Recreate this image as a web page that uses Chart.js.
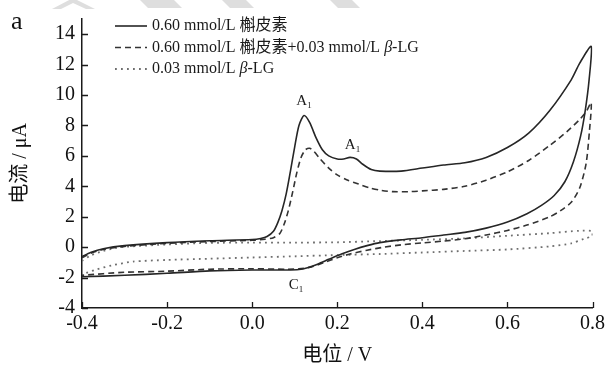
<!DOCTYPE html>
<html>
<head>
<meta charset="utf-8">
<script src="https://cdn.jsdelivr.net/npm/chart.js@4.4.1/dist/chart.umd.min.js"></script>
<style>
html, body { margin: 0; padding: 0; background: #fff; }
#wrap { width: 609px; height: 374px; }
</style>
</head>
<body>
<div id="wrap"><canvas id="cv"></canvas></div>
<script>
// series names as in the legend
var seriesNames = [
    "0.60 mmol/L 槲皮素",
    "0.60 mmol/L 槲皮素+0.03 mmol/L β-LG",
    "0.03 mmol/L β-LG"
];

// quercetin alone: forward scan then reverse scan (V, µA)
var quercetinV = [-0.4, -0.38, -0.35, -0.3, -0.2, -0.1, 0.0, 0.02, 0.035, 0.05, 0.06, 0.07, 0.08, 0.09, 0.1, 0.11, 0.122, 0.135, 0.15, 0.165, 0.18, 0.2, 0.215, 0.23, 0.245, 0.26, 0.28, 0.3, 0.35, 0.4, 0.45, 0.5, 0.55, 0.6, 0.65, 0.7, 0.75, 0.77, 0.797,
    0.792, 0.783, 0.772, 0.755, 0.735, 0.71, 0.68, 0.646, 0.6, 0.55, 0.5, 0.45, 0.4, 0.35, 0.3, 0.27, 0.24, 0.21, 0.18, 0.155, 0.13, 0.11, 0.08, 0.0, -0.1, -0.2, -0.3, -0.4];
var quercetinI = [-0.62, -0.35, -0.1, 0.1, 0.3, 0.42, 0.5, 0.57, 0.7, 1.05, 1.6, 2.4, 3.5, 5.0, 6.6, 8.0, 8.65, 8.2, 7.2, 6.4, 6.0, 5.8, 5.8, 5.9, 5.8, 5.45, 5.1, 5.0, 5.0, 5.2, 5.4, 5.55, 5.9, 6.55, 7.5, 9.0, 11.0, 12.1, 13.2,
    11.0, 9.0, 7.3, 5.6, 4.3, 3.4, 2.75, 2.2, 1.65, 1.25, 0.97, 0.8, 0.62, 0.48, 0.3, 0.1, -0.15, -0.45, -0.8, -1.1, -1.35, -1.47, -1.5, -1.5, -1.56, -1.72, -1.85, -1.95];

// quercetin + beta-LG
var mixV = [-0.4, -0.38, -0.35, -0.3, -0.2, -0.1, 0.0, 0.03, 0.05, 0.065, 0.075, 0.085, 0.095, 0.105, 0.115, 0.125, 0.135, 0.145, 0.16, 0.18, 0.2, 0.225, 0.25, 0.275, 0.3, 0.33, 0.37, 0.4, 0.45, 0.5, 0.55, 0.6, 0.65, 0.7, 0.74, 0.77, 0.785, 0.797,
    0.793, 0.785, 0.77, 0.75, 0.725, 0.7, 0.646, 0.6, 0.55, 0.5, 0.45, 0.4, 0.35, 0.31, 0.27, 0.23, 0.2, 0.17, 0.14, 0.11, 0.08, 0.0, -0.1, -0.2, -0.3, -0.4];
var mixI = [-0.7, -0.4, -0.15, 0.05, 0.25, 0.37, 0.45, 0.52, 0.62, 0.9, 1.5, 2.4, 3.6, 4.9, 5.9, 6.4, 6.5, 6.3, 5.8, 5.2, 4.75, 4.4, 4.15, 3.9, 3.75, 3.65, 3.65, 3.7, 3.8, 4.0, 4.4, 4.95, 5.7, 6.7, 7.6, 8.4, 8.9, 9.5,
    7.7, 5.5, 3.9, 2.95, 2.4, 2.0, 1.45, 1.1, 0.8, 0.55, 0.4, 0.28, 0.15, 0.0, -0.2, -0.45, -0.7, -1.0, -1.3, -1.42, -1.45, -1.42, -1.45, -1.58, -1.65, -1.85];

// beta-LG alone
var lgV = [-0.4, -0.38, -0.35, -0.32, -0.3, -0.2, -0.1, 0.0, 0.1, 0.2, 0.3, 0.4, 0.5, 0.6, 0.7, 0.77, 0.8,
    0.8, 0.78, 0.75, 0.7, 0.6, 0.5, 0.4, 0.3, 0.2, 0.1, 0.0, -0.1, -0.2, -0.28, -0.33, -0.37, -0.4];
var lgI = [-0.9, -0.55, -0.25, -0.05, 0.02, 0.18, 0.28, 0.3, 0.3, 0.32, 0.4, 0.48, 0.58, 0.75, 0.92, 1.08, 1.05,
    0.75, 0.55, 0.25, 0.05, -0.15, -0.25, -0.35, -0.45, -0.52, -0.6, -0.68, -0.76, -0.84, -0.95, -1.2, -1.5, -1.8];

var xTicks = [-0.4, -0.2, 0.0, 0.2, 0.4, 0.6, 0.8];
var yTicks = [-4, -2, 0, 2, 4, 6, 8, 10, 12, 14];

// peak labels (name, subscript, potential, current)
var peakNames = ["A", "A", "C"];
var peakSubs = ["1", "1", "1"];
var peakV = [0.118, 0.232, 0.1];
var peakI = [9.7, 6.75, -2.4];

function toPoints(xs, ys) {
    return xs.map(function (v, i) { return { x: v, y: ys[i] }; });
}

var serif = '"Liberation Serif", "Noto Sans CJK SC", serif';

var extras = {
    id: 'extras',
    beforeDraw: function (chart) {
        // faint watermark stripes along the top edge
        var ctx = chart.ctx;
        ctx.save();
        ctx.fillStyle = '#dedede';
        ctx.beginPath();
        ctx.moveTo(52, 9); ctx.lineTo(73, -2); ctx.lineTo(95, 9); ctx.lineTo(86, 9); ctx.lineTo(73, 3); ctx.lineTo(61, 9);
        ctx.closePath(); ctx.fill();
        [[140, 34], [222, 24], [330, 22]].forEach(function (s) {
            ctx.beginPath();
            ctx.moveTo(s[0], 0); ctx.lineTo(s[0] + s[1], 0); ctx.lineTo(s[0] + s[1] + 8, 8); ctx.lineTo(s[0] + 8, 8);
            ctx.closePath(); ctx.fill();
        });
        ctx.restore();
    },
    afterDraw: function (chart) {
        var ctx = chart.ctx;
        var xs = chart.scales.x, ys = chart.scales.y;
        var area = chart.chartArea;
        ctx.save();
        // inward ticks
        ctx.strokeStyle = '#1a1a1a';
        ctx.lineWidth = 1.3;
        ctx.beginPath();
        xTicks.forEach(function (v) {
            var px = Math.round(xs.getPixelForValue(v)) + 0.5;
            ctx.moveTo(px, area.bottom); ctx.lineTo(px, area.bottom - 6);
        });
        yTicks.forEach(function (v) {
            var py = Math.round(ys.getPixelForValue(v)) + 0.5;
            ctx.moveTo(area.left, py); ctx.lineTo(area.left + 6, py);
        });
        ctx.stroke();

        // legend
        chart.data.datasets.forEach(function (ds, i) {
            var y = area.top + 7 + i * 21.5;
            ctx.strokeStyle = ds.borderColor;
            ctx.lineWidth = ds.borderWidth;
            ctx.setLineDash(ds.borderDash || []);
            ctx.beginPath();
            ctx.moveTo(area.left + 33, y); ctx.lineTo(area.left + 65, y);
            ctx.stroke();
            ctx.setLineDash([]);
            ctx.fillStyle = '#1a1a1a';
            ctx.textBaseline = 'middle';
            ctx.textAlign = 'left';
            var parts = ds.label.split('β');
            var tx = area.left + 70;
            parts.forEach(function (p, k) {
                if (k > 0) {
                    ctx.font = 'italic 16px ' + serif;
                    ctx.fillText('β', tx, y);
                    tx += ctx.measureText('β').width;
                }
                ctx.font = '16px ' + serif;
                ctx.fillText(p, tx, y);
                tx += ctx.measureText(p).width;
            });
        });

        // peak labels
        peakNames.forEach(function (n, i) {
            var px = xs.getPixelForValue(peakV[i]);
            var py = ys.getPixelForValue(peakI[i]);
            ctx.fillStyle = '#1a1a1a';
            ctx.textBaseline = 'alphabetic';
            ctx.font = '15px ' + serif;
            ctx.fillText(n, px - 6, py + 5);
            var w = ctx.measureText(n).width;
            ctx.font = '9px ' + serif;
            ctx.fillText(peakSubs[i], px - 6 + w, py + 8);
        });

        // panel letter
        ctx.font = '26px ' + serif;
        ctx.fillStyle = '#111';
        ctx.textBaseline = 'alphabetic';
        ctx.fillText('a', 11, 29);
        ctx.restore();
    }
};

var ct = document.getElementById('cv');

var grafico = new Chart(ct, {
    type: 'scatter',
    data: {
        datasets: [{
            label: seriesNames[0],
            data: toPoints(quercetinV, quercetinI),
            showLine: true,
            borderWidth: 1.6,
            borderColor: '#262626',
            pointRadius: 0,
            tension: 0.25
        },
        {
            label: seriesNames[1],
            data: toPoints(mixV, mixI),
            showLine: true,
            borderWidth: 1.6,
            borderColor: '#333333',
            borderDash: [6, 4],
            pointRadius: 0,
            tension: 0.25
        },
        {
            label: seriesNames[2],
            data: toPoints(lgV, lgI),
            showLine: true,
            borderWidth: 1.8,
            borderColor: '#6e6e6e',
            borderDash: [1.8, 4.2],
            pointRadius: 0,
            tension: 0.25
        }]
    },
    options: {
        responsive: true,
        maintainAspectRatio: false,
        animation: false,
        devicePixelRatio: 1,
        layout: { padding: { left: 6, right: 13, top: 18, bottom: 0 } },
        plugins: {
            legend: { display: false },
            tooltip: { enabled: false }
        },
        scales: {
            x: {
                type: 'linear',
                min: -0.4,
                max: 0.8,
                afterBuildTicks: function (s) { s.ticks = xTicks.map(function (v) { return { value: v }; }); },
                afterFit: function (s) { s.height = 66; },
                ticks: {
                    callback: function (v) { return v.toFixed(1); },
                    font: { family: serif, size: 20 },
                    color: '#111',
                    padding: 4,
                    maxRotation: 0,
                    autoSkip: false
                },
                grid: { drawOnChartArea: false, drawTicks: false },
                border: { display: true, color: '#1a1a1a', width: 1.5 },
                title: {
                    display: true,
                    text: '电位 / V',
                    font: { family: serif, size: 20 },
                    color: '#111',
                    padding: { top: 0, bottom: 6 }
                }
            },
            y: {
                type: 'linear',
                min: -4,
                max: 15,
                afterBuildTicks: function (s) { s.ticks = yTicks.map(function (v) { return { value: v }; }); },
                afterFit: function (s) { s.width = 76; },
                ticks: {
                    font: { family: serif, size: 20 },
                    color: '#111',
                    padding: 7,
                    autoSkip: false
                },
                grid: { drawOnChartArea: false, drawTicks: false },
                border: { display: true, color: '#1a1a1a', width: 1.5 },
                title: {
                    display: true,
                    text: '电流 / μA',
                    font: { family: serif, size: 20 },
                    color: '#111',
                    padding: { top: 3, bottom: 0 }
                }
            }
        }
    },
    plugins: [extras]
});
</script>
</body>
</html>
